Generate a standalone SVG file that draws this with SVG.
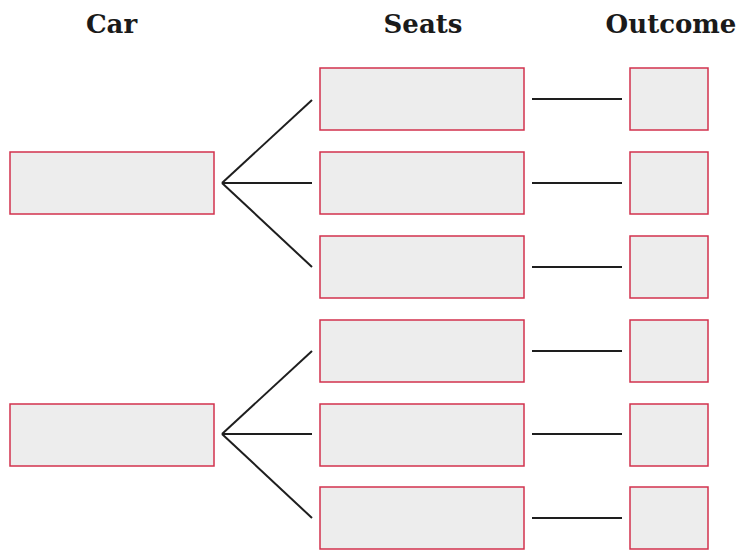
<svg xmlns="http://www.w3.org/2000/svg" width="744" height="550" viewBox="0 0 744 550">
<style>
.box{fill:#ededed;stroke:#d2324d;stroke-width:1.5}
.ln{stroke:#1e1e1e;stroke-width:2;fill:none}
.hd{font-family:"DejaVu Serif","Liberation Serif",serif;font-weight:bold;font-size:26px;fill:#1a1a1a;text-anchor:middle}
</style>
<rect width="744" height="550" fill="#ffffff"/>
<g id="headers">
<text class="hd" x="111.5" y="33">Car</text>
<text class="hd" x="423" y="33">Seats</text>
<text class="hd" x="671" y="33">Outcome</text>
</g>
<g id="connectors">
<line class="ln" x1="222" y1="183" x2="312" y2="100"/>
<line class="ln" x1="222" y1="183" x2="312" y2="183"/>
<line class="ln" x1="222" y1="183" x2="312" y2="267"/>
<line class="ln" x1="222" y1="434" x2="312" y2="351"/>
<line class="ln" x1="222" y1="434" x2="312" y2="434"/>
<line class="ln" x1="222" y1="434" x2="312" y2="518"/>
<line class="ln" x1="532" y1="99" x2="622" y2="99"/>
<line class="ln" x1="532" y1="183" x2="622" y2="183"/>
<line class="ln" x1="532" y1="267" x2="622" y2="267"/>
<line class="ln" x1="532" y1="351" x2="622" y2="351"/>
<line class="ln" x1="532" y1="434" x2="622" y2="434"/>
<line class="ln" x1="532" y1="518" x2="622" y2="518"/>
</g>
<g id="car1"><rect class="box" x="10" y="152" width="204" height="62"/></g>
<g id="car2"><rect class="box" x="10" y="404" width="204" height="62"/></g>
<g id="seat1"><rect class="box" x="320" y="68" width="204" height="62"/></g>
<g id="seat2"><rect class="box" x="320" y="152" width="204" height="62"/></g>
<g id="seat3"><rect class="box" x="320" y="236" width="204" height="62"/></g>
<g id="seat4"><rect class="box" x="320" y="320" width="204" height="62"/></g>
<g id="seat5"><rect class="box" x="320" y="404" width="204" height="62"/></g>
<g id="seat6"><rect class="box" x="320" y="487" width="204" height="62"/></g>
<g id="out1"><rect class="box" x="630" y="68" width="78" height="62"/></g>
<g id="out2"><rect class="box" x="630" y="152" width="78" height="62"/></g>
<g id="out3"><rect class="box" x="630" y="236" width="78" height="62"/></g>
<g id="out4"><rect class="box" x="630" y="320" width="78" height="62"/></g>
<g id="out5"><rect class="box" x="630" y="404" width="78" height="62"/></g>
<g id="out6"><rect class="box" x="630" y="487" width="78" height="62"/></g>
</svg>
